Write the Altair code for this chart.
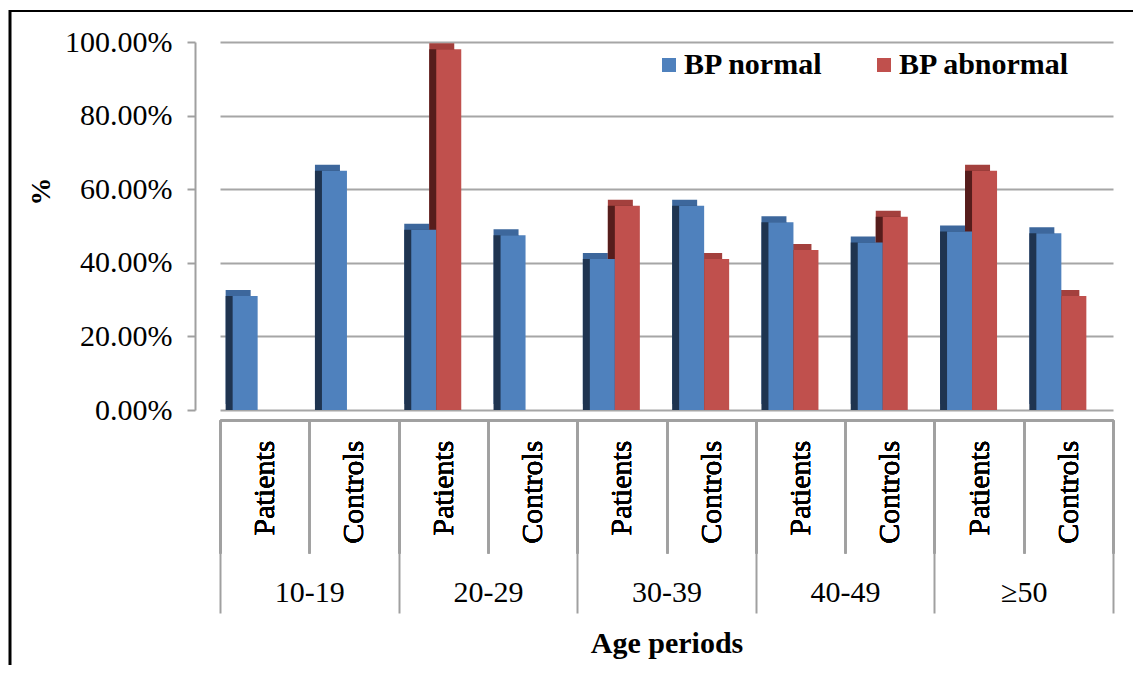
import altair as alt
import pandas as pd

age_groups = ["10-19", "20-29", "30-39", "40-49", "≥50"]
subjects = ["Patients", "Controls"]
series = ["BP normal", "BP abnormal"]

# values in %, order: for each age group -> Patients, Controls
bp_normal = [31, 65, 49, 47.5, 41, 55.5, 51, 45.5, 48.5, 48]
bp_abnormal = [0, 0, 98, 0, 55.5, 41, 43.5, 52.5, 65, 31]

cats = [f"{g} {s}" for g in age_groups for s in subjects]
rows = []
for i, c in enumerate(cats):
    rows.append({"cat": c, "series": series[0], "value": bp_normal[i] / 100})
    rows.append({"cat": c, "series": series[1], "value": bp_abnormal[i] / 100})
df = pd.DataFrame(rows)
gdf = pd.DataFrame({"group": age_groups})

W, H = 893, 368
PAD = {"left": 212, "top": 34, "right": 20, "bottom": 255}
SERIF = "Liberation Serif"
BAR_W = 25
SIDE_DX = 7
SIDE_DY = 6
SHIFT = -7

front_colors = {"BP normal": "#4f81bd", "BP abnormal": "#c0504d"}
top_colors = {"BP normal": "#3d679c", "BP abnormal": "#a3403d"}
side_colors = {"BP normal": "#1f3450", "BP abnormal": "#561d1c"}
centre = {"BP normal": -BAR_W / 2, "BP abnormal": BAR_W / 2}

x_enc = alt.X(
    "cat:N",
    sort=cats,
    scale=alt.Scale(domain=cats, paddingInner=0, paddingOuter=0),
    axis=alt.Axis(
        orient="bottom", offset=10, labelAngle=-90, labelAlign="right",
        labelBaseline="middle", labelExpr="split(datum.label, ' ')[1]",
        tickBand="extent", tickSize=133, labelPadding=20 - 133,
        labelFont=SERIF, labelFontSize=30, labelColor="black",
        title=None, grid=False, domain=True,
    ),
)
y_enc = alt.Y(
    "value:Q",
    scale=alt.Scale(domain=[0, 1]),
    axis=alt.Axis(
        format=".2%", values=[0, 0.2, 0.4, 0.6, 0.8, 1.0], offset=25,
        tickSize=8, labelPadding=15, labelFont=SERIF, labelFontSize=30,
        labelColor="black", title="%", titleFont=SERIF, titleFontSize=28,
        titleFontWeight="bold", titleColor="black", titleAngle=-90,
        titleX=-154, titleY=149, titleAlign="center", titleBaseline="middle",
        grid=True,
    ),
)

base = alt.Chart(df)

back_layers = []
side_layers = []
front_layers = []
for s in series:
    sub = base.transform_filter(alt.datum.series == s)
    cx = centre[s] + SHIFT
    back_layers.append(
        sub.mark_bar(width=BAR_W, xOffset=cx - SIDE_DX, yOffset=-SIDE_DY,
                     color=top_colors[s]).encode(x=x_enc, y=y_enc)
    )
    side_layers.append(
        sub.mark_bar(width=BAR_W, xOffset=cx - SIDE_DX,
                     color=side_colors[s]).encode(x=x_enc, y=y_enc)
    )
    front_layers.append(
        sub.mark_bar(width=BAR_W, xOffset=cx).encode(
            x=x_enc, y=y_enc,
            color=alt.Color(
                "series:N", sort=series,
                scale=alt.Scale(domain=series,
                                range=[front_colors[k] for k in series]),
                legend=alt.Legend(
                    orient="none", legendX=434, legendY=8,
                    direction="horizontal", title=None, symbolType="square",
                    symbolSize=196, symbolStrokeWidth=0, labelFont=SERIF,
                    labelFontSize=30, labelFontWeight="bold",
                    labelColor="black", labelOffset=0, labelLimit=0,
                    columnPadding=45, padding=0,
                ),
            ),
        )
    )

groups = alt.Chart(gdf).mark_text(opacity=0).encode(
    x=alt.X(
        "group:N", sort=age_groups,
        scale=alt.Scale(domain=age_groups, paddingInner=0, paddingOuter=0),
        axis=alt.Axis(
            orient="bottom", offset=10, labelAngle=0, tickBand="extent",
            tickSize=193, labelPadding=-36, labelBaseline="top",
            labelAlign="center", labelFont=SERIF, labelFontSize=30,
            labelColor="black", domain=False, grid=False,
            title="Age periods", titleFont=SERIF, titleFontSize=30,
            titleFontWeight="bold", titleColor="black", titleY=223,
            titleBaseline="middle",
        ),
    ),
    text="group:N",
)

frame_df = pd.DataFrame({"a": [0]})
left_border = alt.Chart(frame_df).mark_rule(color="black", strokeWidth=3).encode(
    x=alt.value(-210), y=alt.value(-32), y2=alt.value(H + PAD["bottom"])
)
top_border = alt.Chart(frame_df).mark_rule(color="black", strokeWidth=2).encode(
    x=alt.value(-211), x2=alt.value(W + PAD["right"]), y=alt.value(-31)
)

chart = (
    alt.layer(*back_layers, *side_layers, *front_layers, groups,
              left_border, top_border)
    .resolve_scale(x="independent")
    .properties(
        width=W, height=H,
        autosize=alt.AutoSizeParams(type="none"),
        padding=PAD,
    )
    .configure_view(stroke=None)
    .configure_axis(
        gridColor="#a6a6a6", gridWidth=2, domainColor="#a0a0a0",
        domainWidth=2, tickColor="#a0a0a0", tickWidth=2,
    )
)

chart.save("out.html", embed_options={"renderer": "svg", "actions": False})
